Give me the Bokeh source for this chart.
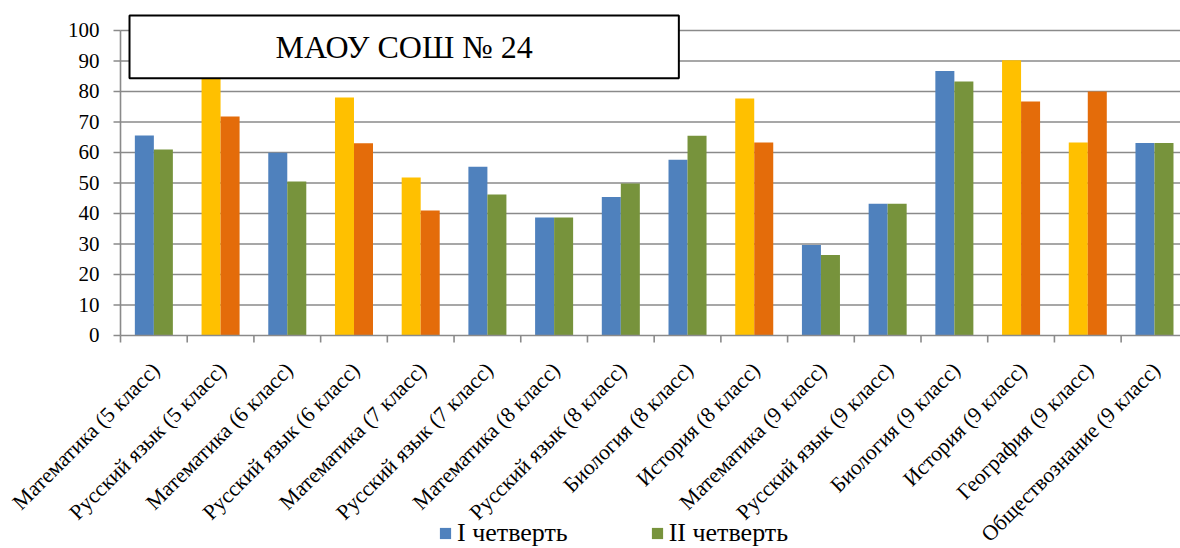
import math
from bokeh.plotting import figure
from bokeh.models import (Range1d, ColumnDataSource, BoxAnnotation, Label,
                          Legend, LegendItem)
from bokeh.core.properties import value
from bokeh.embed import file_html
from bokeh.resources import INLINE

# ---- data ----
categories = [
    "Математика (5 класс)", "Русский язык (5 класс)", "Математика (6 класс)",
    "Русский язык (6 класс)", "Математика (7 класс)", "Русский язык (7 класс)",
    "Математика (8 класс)", "Русский язык (8 класс)", "Биология (8 класс)",
    "История (8 класс)", "Математика (9 класс)", "Русский язык (9 класс)",
    "Биология (9 класс)", "История (9 класс)", "География (9 класс)",
    "Обществознание (9 класс)",
]
quarter1 = [65.6, 88.0, 59.9, 78.0, 51.8, 55.3, 38.7, 45.4, 57.6, 77.7, 29.7, 43.2, 86.7, 90.2, 63.3, 63.1]
quarter2 = [61.0, 71.8, 50.5, 63.0, 41.0, 46.2, 38.7, 49.8, 65.5, 63.3, 26.4, 43.2, 83.3, 76.7, 80.0, 63.1]
series_names = ["I четверть", "II четверть"]
y_ticks = list(range(0, 101, 10))
y_tick_labels = [str(t) for t in y_ticks]
title_text = "МАОУ СОШ № 24"

# ---- style / layout ----
FONT = "Liberation Serif"
BLUE, GREEN, YELLOW, ORANGE = "#4F81BD", "#77933C", "#FFC000", "#E46C0A"
GRID = "#8A8A8A"
LW = 1.6
highlight = {1, 3, 4, 9, 13, 14}
BAR_W = 0.285
W, H = 1180, 548
X_MIN, X_MAX = -1.799, 15.89          # frame covers the whole canvas
Y_MIN, Y_MAX = -69.84, 109.83
TICK_PX = 7

n = len(categories)
centers = [i + 0.5 for i in range(n)]
bounds = list(range(n + 1))
c1 = [YELLOW if i in highlight else BLUE for i in range(n)]
c2 = [ORANGE if i in highlight else GREEN for i in range(n)]

src1 = ColumnDataSource(dict(x=[c - BAR_W / 2 for c in centers], top=quarter1, color=c1))
src2 = ColumnDataSource(dict(x=[c + BAR_W / 2 for c in centers], top=quarter2, color=c2))

p = figure(frame_width=W, frame_height=H,
           x_range=Range1d(X_MIN, X_MAX), y_range=Range1d(Y_MIN, Y_MAX),
           output_backend="svg", toolbar_location=None,
           min_border_left=0, min_border_right=0, min_border_top=0, min_border_bottom=0)
p.outline_line_color = None
p.xaxis.visible = False
p.yaxis.visible = False
p.grid.visible = False

# horizontal grid lines (from the value axis to the right edge)
p.ray(x=0, y=y_ticks[1:], length=0, angle=0, line_color=GRID, line_width=LW)

# bars
r1 = p.vbar(x="x", top="top", width=BAR_W, fill_color="color", line_color=None, source=src1)
r2 = p.vbar(x="x", top="top", width=BAR_W, fill_color="color", line_color=None, source=src2)

# value axis
p.segment(x0=0, y0=0, x1=0, y1=max(y_ticks), line_color=GRID, line_width=LW)
p.ray(x=0, y=y_ticks, length=TICK_PX, length_units="screen", angle=math.pi,
      line_color=GRID, line_width=LW)
p.text(x=0, y=y_ticks, text=y_tick_labels, x_offset=-21, text_align="right",
       text_baseline="middle", text_font=value(FONT), text_font_size="21px", text_color="black")

# category axis
p.ray(x=0, y=0, length=0, angle=0, line_color=GRID, line_width=LW)
p.ray(x=bounds, y=0, length=TICK_PX, length_units="screen", angle=-math.pi / 2,
      line_color=GRID, line_width=LW)
p.text(x=centers, y=0, text=categories, angle=math.pi / 4, x_offset=2, y_offset=31,
       text_align="right", text_baseline="middle", text_font=value(FONT),
       text_font_size="21.7px", text_color="black")

# title box
box = BoxAnnotation(left=0.135, right=8.37, bottom=84.3, top=104.9,
                    fill_color="white", fill_alpha=1.0, line_color="black", line_alpha=1.0,
                    line_width=2, level="overlay")
p.add_layout(box)
lbl = Label(x=(0.135 + 8.37) / 2, y=(84.3 + 104.9) / 2, text=title_text,
            text_font=FONT, text_font_size="32px", text_color="black",
            text_align="center", text_baseline="middle", level="overlay")
p.add_layout(lbl)

legend = Legend(items=[LegendItem(label=series_names[0], renderers=[r1], index=0),
                       LegendItem(label=series_names[1], renderers=[r2], index=0)],
                orientation="horizontal", location=(438, 0),
                label_text_font=FONT, label_text_font_size="26px", label_text_color="black",
                glyph_width=14, glyph_height=14, label_standoff=5, spacing=82,
                padding=0, margin=0, border_line_color=None, background_fill_alpha=0)
p.add_layout(legend, "center")

open("out.html", "w").write(file_html(p, INLINE))
